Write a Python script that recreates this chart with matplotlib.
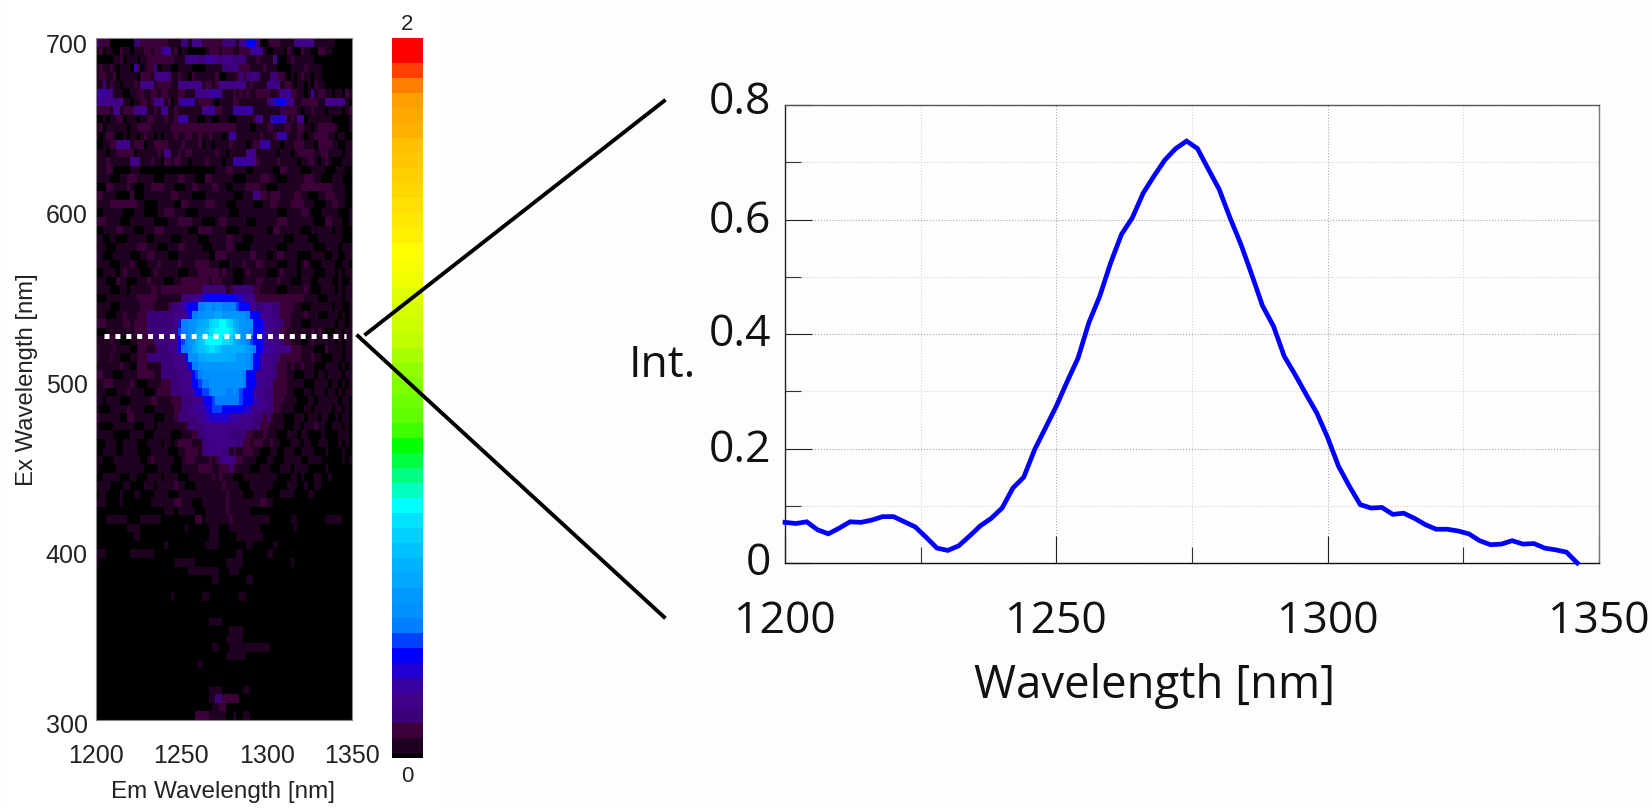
import matplotlib
matplotlib.use('Agg')
import matplotlib.pyplot as plt
import numpy as np
from matplotlib.colors import ListedColormap
from matplotlib.lines import Line2D
from matplotlib.patches import Rectangle
from matplotlib.ticker import MultipleLocator

W, H = 1652, 808

# spectrum cut along the dotted line, every 2 nm
wavelength = np.arange(1200, 1348, 2)
intensity = [
    .071, .069, .072, .058, .051, .061, .072, .071, .075, .081,
    .081, .072, .063, .045, .026, .022, .030, .047, .065, .078,
    .096, .131, .150, .198, .236, .274, .317, .358, .420, .466,
    .524, .574, .603, .646, .676, .704, .724, .737, .724, .688,
    .653, .603, .557, .504, .449, .414, .361, .329, .295, .262,
    .219, .169, .134, .102, .096, .097, .085, .087, .078, .067,
    .059, .059, .056, .051, .039, .032, .033, .039, .033, .034,
    .026, .023, .019, .000,
]

# colour bar bands, bottom to top
band_colors = [
    '#000000', '#200020', '#3c0038', '#3c0078', '#400088', '#3800a0', '#2000d0', '#0000ff',
    '#0040ff', '#0080ff', '#0090ff', '#0098ff', '#00a8ff', '#00b0ff', '#00c0ff', '#00d0ff',
    '#00e0ff', '#00ffff', '#00ffc0', '#00ff80', '#00ff40', '#00ff00', '#40ff00', '#60ff00',
    '#70ff00', '#7fff00', '#90ff00', '#a8ff00', '#c0ff00', '#ccff00', '#d4ff00', '#e0ff00',
    '#f0ff00', '#f8ff00', '#ffff00', '#fff000', '#ffe800', '#ffe000', '#ffd800', '#ffd000',
    '#ffc800', '#ffc000', '#ffb000', '#ffa800', '#ffa000', '#ff8000', '#ff4000', '#ff0000',
    '#ff0000',
]

# heat map, colour band per cell (base 36), top row first, 75 columns 1200-1350 nm
map_rows = [
    "3222000000 0332222222 2111133144 4222222333 3144777300 1222111144 4444111111 00000",
    "1201100211 0111221223 5512011000 0012221222 1122245541 0011102100 2110022110 00000",
    "0000011201 1101122222 2221113444 3355443444 3333111211 1140001211 1111000000 00000",
    "1211210111 0520122301 1100111100 0011111333 4322211112 1110000111 1211110000 00000",
    "1221120111 1102221344 4311211021 1111120011 1232334311 1332210101 2110110000 00000",
    "1131211011 1214444122 2211444444 4122124444 4444121111 4444122101 1010211000 00000",
    "4554411100 1122112212 2111221114 4445554111 2121211222 2112445221 1014122110 11021",
    "4444444411 0112212444 1201355551 2222101111 2211111111 3467764411 2222211444 44410",
    "2222144122 2444411214 4112111111 1445522111 5555551111 1111222221 0112111011 11012",
    "0010112201 1101122111 2112555111 0011001110 0111112441 1566651214 4011111110 00001",
    "1201111110 1122221111 1122222222 2222222222 2111100111 2211122112 2110122222 10001",
    "1012210010 1101211010 1112112211 2112111015 5111111121 1125551112 1011222211 01100",
    "0011224444 1222011222 2111121111 2011011112 1111012255 5111011122 2111022221 10011",
    "1110112222 2011111121 4411212211 1111121101 1111444111 1110111012 2222112211 11011",
    "1112111111 4441112110 2212211011 1121111011 5555544211 1112111110 1122101210 00111",
    "1112200000 1110000000 0000000000 0000011122 1111001111 1100221111 0001111000 11100",
    "1111000112 2211111000 1111221110 0022111111 0000111122 2110001111 1222110001 11000",
    "0002211112 1000112222 1110001122 1111221100 1111222211 0001111111 2222222221 11100",
    "2211110000 2000111111 1122111100 0011111111 0001114422 1222111122 1100011222 11100",
    "1111222222 2211000011 1110022111 1122211100 0111110001 1221111222 2111000112 21100",
    "0011111100 0111000011 2221110000 1111111110 0011111111 1110001111 2210001111 10001",
    "2221111000 1111111000 0111222211 1000012211 1111000111 1112221111 1111000221 11001",
    "0011112211 1000111222 1111111000 2222111100 0011111111 0022111111 0001111110 11000",
    "1100110001 1111100111 1100011111 0001111122 1110001111 1111100011 1100011111 11000",
    "1110001111 1122211100 0111221111 1000111122 1000011111 1110001111 1111000111 10111",
    "1100011111 0001122111 1000111111 1110022211 1111122111 0012211110 0001111001 10011",
    "1111000111 2100011121 1111211112 2221110001 1112111221 1110001110 1210001111 00110",
    "0011110121 1110001211 1111000111 2222221211 0001211111 0001211110 1111000111 01011",
    "1110002110 0011121111 0001122222 2221222111 0001111221 1112111000 1110011110 01001",
    "1111000110 1111112212 2222222222 2333333312 3333332211 1110001111 1210001111 01011",
    "0001111111 1122222211 1111133445 5677777777 7665443222 2222222222 2111100011 11011",
    "1111000111 1112222111 1233456777 99aa9aa999 9877744334 4433222211 0001111110 11001",
    "1110001121 1122233333 3334445799 aabbbccbbb bbaa977744 4433222111 1211100011 10101",
    "2221111122 1222233333 3334699aab ccdfgghhgf dcbbaa7775 4443322111 0001111111 01101",
    "0001111111 1222233334 3344899aac ddegghhhhg ecbaa97775 4433221111 1112121000 11011",
    "1111211000 1122222334 3344789abd efhhhhhggf dcba987775 4443322111 0012111111 01011",
    "2111121111 0022211233 3444799acd eefggfedcd dddcba9775 5544444222 1111000211 11011",
    "2111211000 1122233333 3334447aaa ccdddddddc cbbba97754 4433222222 1112110001 11011",
    "1111111211 0022211113 3334444799 abbbbbbbbb bbbba97754 4432221211 2111000111 10101",
    "2211100011 1122222113 3333444478 9aaaaaaaaa aaa9777444 4432221100 0111011011 11011",
    "1122211111 2100011112 2233344477 899aaaaaaa aaa9777544 4322221111 1000111101 10101",
    "1110001112 1111000122 2233344457 7889aaaa99 a987775443 3322221100 0110111011 01011",
    "1101111000 1111112211 1122233344 4677899999 9987775544 3322211110 0011011111 10110",
    "1000111112 1111000111 1112233445 5567888777 7776654443 3322111100 0110111110 11010",
    "2111111002 2111111000 1112333334 4556666665 5544443332 3211100011 1011101100 10110",
    "1000011111 1000111011 1111112333 3444444444 4444433322 2111100011 0111211001 11010",
    "1111100000 1111000111 1100011122 3344444443 3333221112 1110001110 1100001000 01110",
    "0001110011 1100011110 1101222211 1334444434 4332212221 1211000111 0110011100 01010",
    "0011110011 1100001111 1000112222 1334444331 2112221100 0110011100 1111000100 00100",
    "1100011111 1110012111 1110012221 1112123444 3221111000 1100011111 0011110000 00101",
    "1000001111 1111000011 1100011111 2222112223 2111100011 1000111011 1100000100 00000",
    "0011111000 1100011110 1111000111 1111212111 0001111111 1110000110 1000110010 00000",
    "1111000011 0000111011 1112110001 1111111211 1100011111 1100001110 0100110000 00000",
    "0110000100 0110000111 1000111111 1111111121 1110001111 0000111100 0011000000 00000",
    "1110000100 0000001111 1112211100 0111111121 1111111122 1100000000 0000000000 00000",
    "0000000000 0000000000 1110111110 0011111121 1111100000 0000000000 0000000000 00000",
    "0001111110 0001111110 0000000002 2011111112 1111111111 1000000110 0000000111 11000",
    "0000000001 1110000000 0000001000 0001110001 1111111100 0000000010 0000000000 00000",
    "0000000000 0110000000 0000000000 0001110000 0111111110 0000000000 0000000000 00000",
    "0000000000 0000000000 1000000000 0011110000 0000110000 0010000000 0000000000 00000",
    "1110000000 1111111000 0000000000 0000000000 0110000000 1100000000 0000000000 00000",
    "1000000000 0000000000 0001111110 0000000011 1110000000 0000000100 0000000000 00000",
    "0000000000 0000000000 0000000111 1111110001 1100000000 0000000000 0000000000 00000",
    "0000000000 0000000000 0000000000 0000110000 0000110000 0000000000 0000000000 00000",
    "0000000000 0000000000 0000000000 0000000000 0000000000 0000000000 0000000000 00000",
    "0000000000 0000000000 0010000000 0110000000 0011000000 0000000000 0000000000 00000",
    "0000000000 0000000000 0000000000 0000000000 0000000000 0000000000 0000000000 00000",
    "0000000000 0000000000 0000000000 0000000000 0000000000 0000000000 0000000000 00000",
    "0000000000 0000000000 0000000000 0001111000 0000000000 0000000000 0000000000 00000",
    "0000000000 0000000000 0000000000 0000000001 1110000000 0000000000 0000000000 00000",
    "0000000000 0000000000 0000000000 0000000011 1110000000 0000000000 0000000000 00000",
    "0000000000 0000000000 0000000000 0000110001 1111111111 1000000000 0000000000 00000",
    "0000000000 0000000000 0000000000 0000000011 1111000000 0000000000 0000000000 00000",
    "0000000000 0000000000 0000000000 1000000000 0000000000 0000000000 0000000000 00000",
    "0000000000 0000000000 0000000000 0000000000 0000000000 0000000000 0000000000 00000",
    "0000000000 0000000000 0000000000 0000000000 0000000000 0000000000 0000000000 00000",
    "0000000000 0000000000 0000000000 0001111000 0001100000 0000000000 0000000000 00000",
    "0000000000 0000000000 0000000000 0001133222 2200000000 0000000000 0000000000 00000",
    "0000000000 0000000000 0000000000 0000112200 0000000000 0000000000 0000000000 00000",
    "0000000000 0000000000 0000000002 2221111100 1001100000 0000000000 0000000000 00000",
]

em_ticks = [1200, 1250, 1300, 1350]
ex_ticks = [400, 500, 600, 700]
int_ticks = [0, 0.2, 0.4, 0.6, 0.8]
int_labels = ['0', '0.2', '0.4', '0.6', '0.8']
cut_nm = 527.6

narrow = 'Liberation Sans'
plain = 'Open Sans'


def px_axes(fig, x0, y0, x1, y1):
    # pixel box, y counted from the top of the picture
    return fig.add_axes([x0 / W, 1 - y1 / H, (x1 - x0) / W, (y1 - y0) / H])


fig = plt.figure(figsize=(W / 100, H / 100), dpi=100, facecolor='#fefdfc')
fig.add_artist(Rectangle((6 / W, 0), 440 / W, 1, transform=fig.transFigure, color='white', zorder=-5))

cmap = ListedColormap(band_colors)
levels = np.array([[int(c, 36) for c in r.replace(' ', '')] for r in map_rows], dtype=float)

# heat map
ax = px_axes(fig, 96, 38, 352, 720)
ax.imshow(levels, cmap=cmap, vmin=-0.5, vmax=48.5, aspect='auto', interpolation='nearest',
          extent=[1200, 1350, 301.8, 703])
ax.plot([1204.7, 1346.5], [cut_nm, cut_nm], color='white', lw=3.6, ls=(0, (1, 1.18)),
        dash_capstyle='butt')
ax.set_xticks(em_ticks)
ax.set_yticks(ex_ticks)
ax.set_xlim(1200, 1350)
ax.set_ylim(301.8, 703)
ax.tick_params(length=0, labelsize=18)
ax.tick_params(axis='x', pad=17)
ax.tick_params(axis='y', pad=6)
for t in ax.get_xticklabels() + ax.get_yticklabels():
    t.set_family(narrow)
    t.set_color('#222222')
# the 300 label hangs just under the end of the map
ax.annotate('300', (0, 300), xycoords=('axes fraction', 'data'), xytext=(-6, 0),
            textcoords='offset points', ha='right', va='center_baseline', fontsize=18,
            family=narrow, color='#222222', annotation_clip=False)
for s in ax.spines.values():
    s.set_color('#888888')
    s.set_linewidth(0.8)
fig.text(27 / W, 1 - 380 / H, 'Ex Wavelength [nm]', rotation=90, ha='center', va='center',
         fontsize=17.2, family=narrow, color='#222222')
fig.text(223 / W, 1 - 792 / H, 'Em Wavelength [nm]', ha='center', va='center',
         fontsize=17.5, family=narrow, color='#222222')

# colour bar
cax = px_axes(fig, 392, 38, 423, 758)
cax.imshow(np.arange(len(band_colors))[:, None], cmap=cmap, vmin=-0.5, vmax=48.5, aspect='auto',
           origin='lower', extent=[0, 1, -0.5, 48.5], interpolation='nearest')
cax.set_ylim(0.167, 48.167)
cax.axis('off')
fig.text(407 / W, 1 - 24 / H, '2', ha='center', va='center', fontsize=16, family=narrow, color='#222222')
fig.text(407 / W, 1 - 776 / H, '0', ha='center', va='center', fontsize=16, family=narrow, color='#222222')

# spectrum
ax2 = px_axes(fig, 785, 105, 1599, 563)
ax2.set_facecolor('none')
ax2.plot(wavelength, intensity, color='#0000ff', lw=3.4, solid_joinstyle='miter', clip_on=False, zorder=3)
ax2.set_xlim(1200, 1350)
ax2.set_ylim(0, 0.8)
ax2.set_xticks(em_ticks)
ax2.set_yticks(int_ticks)
ax2.set_yticklabels([])
ax2.xaxis.set_minor_locator(MultipleLocator(25))
ax2.yaxis.set_minor_locator(MultipleLocator(0.1))
ax2.grid(True, which='major', color='#aaaaaa', lw=0.8, ls=':')
ax2.grid(True, which='minor', color='#d4d4d4', lw=0.8, ls=':')
ax2.set_axisbelow(True)
ax2.tick_params(which='major', direction='in', length=19.5, width=0.8, color='#222222', labelsize=32)
ax2.tick_params(which='minor', direction='in', length=11.5, width=0.8, color='#333333')
ax2.tick_params(axis='x', which='major', pad=26)
for t in ax2.get_xticklabels():
    t.set_family(plain)
    t.set_color('#111111')
# labels do not sit exactly on their ticks in the source, top one most
for val, lab, dy in zip(int_ticks, int_labels, [-0.5, -1.4, -0.8, -1.4, 1.4]):
    ax2.annotate(lab, (0, val), xycoords=('axes fraction', 'data'), xytext=(-10, dy),
                 textcoords='offset points', ha='right', va='center', fontsize=32,
                 family=plain, color='#111111')
for name, col in [('left', '#222222'), ('bottom', '#111111'), ('top', '#555555'), ('right', '#777777')]:
    ax2.spines[name].set_color(col)
    ax2.spines[name].set_linewidth(1.0)
fig.text(662 / W, 1 - 366 / H, 'Int.', ha='center', va='center', fontsize=32, family=plain, color='#111111')
fig.text(1154 / W, 1 - 686 / H, 'Wavelength [nm]', ha='center', va='center', fontsize=32.8, family=plain,
         color='#111111')

# zoom connectors
for x_pts, y_pts in [((366, 664), (334, 101)), ((358, 664), (336, 617))]:
    fig.add_artist(Line2D([x_pts[0] / W, x_pts[1] / W], [1 - y_pts[0] / H, 1 - y_pts[1] / H],
                          transform=fig.transFigure, color='black', lw=2.8, zorder=6))

fig.savefig('out.png', dpi=100, facecolor=fig.get_facecolor())
